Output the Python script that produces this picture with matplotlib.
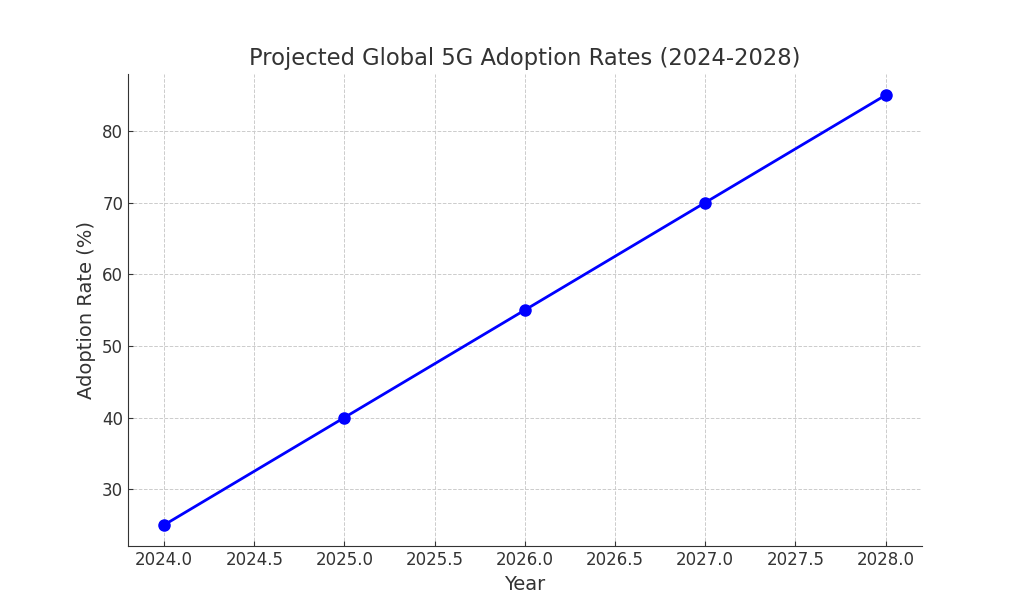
import matplotlib
matplotlib.use("Agg")
import matplotlib.pyplot as plt

years = [2024, 2025, 2026, 2027, 2028]
adoption = [25, 40, 55, 70, 85]

plt.rcParams['font.family'] = ['DejaVu Sans']
text_color = '#333333'

fig, ax = plt.subplots(figsize=(10.24, 6.14), dpi=100)
fig.subplots_adjust(left=0.125, right=0.9, bottom=0.11, top=0.88)

ax.plot(years, adoption, marker='o', color='blue', linewidth=2, markersize=8)

ax.set_title('Projected Global 5G Adoption Rates (2024-2028)', fontsize=16.3, color=text_color)
ax.set_xlabel('Year', fontsize=14, color=text_color)
ax.set_ylabel('Adoption Rate (%)', fontsize=14, color=text_color)

ax.grid(True, linestyle='--', color='#cccccc', linewidth=0.7)
ax.set_axisbelow(True)
for s in ['top', 'right']:
    ax.spines[s].set_visible(False)
for s in ['left', 'bottom']:
    ax.spines[s].set_color(text_color)
ax.tick_params(colors=text_color, labelsize=12, direction='in')

fig.savefig('out.png', dpi=100)
